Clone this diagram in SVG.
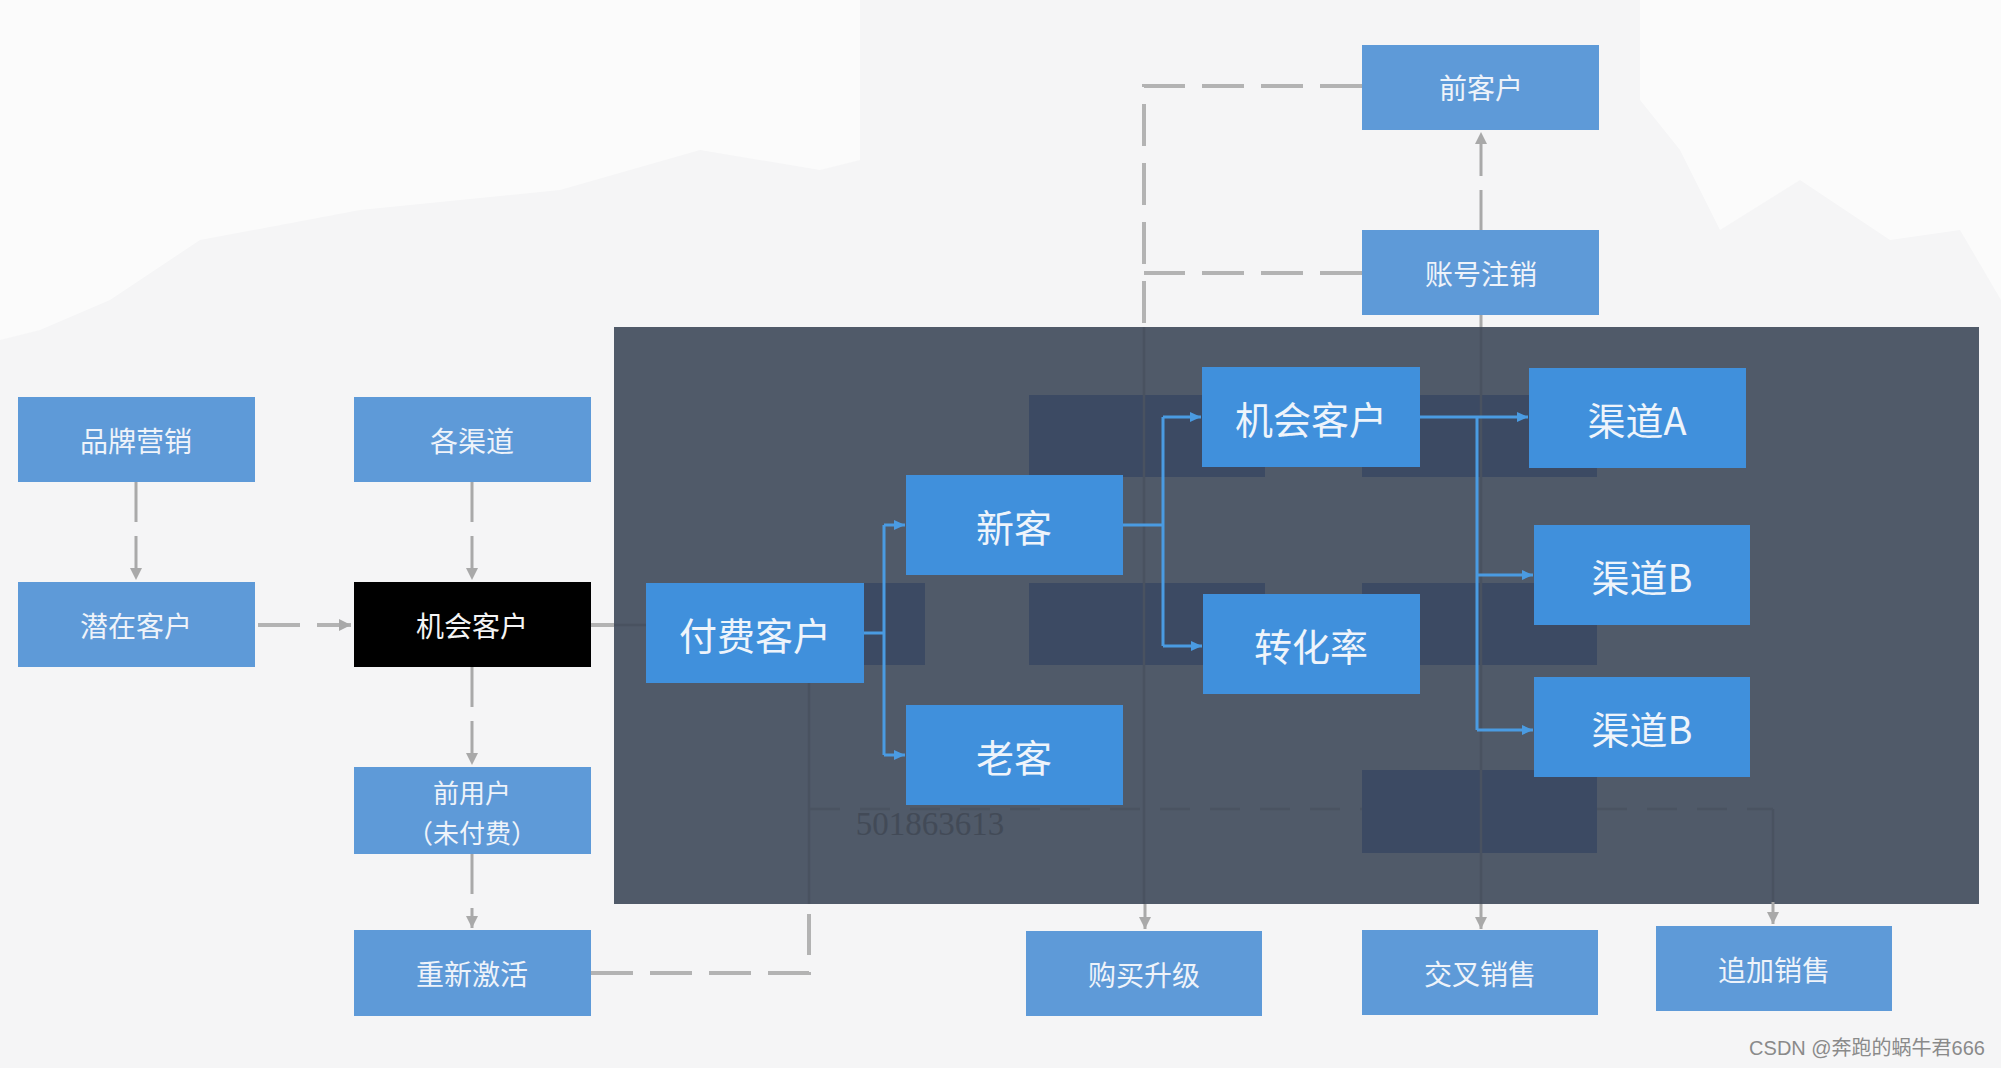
<svg xmlns="http://www.w3.org/2000/svg" width="2001" height="1068" viewBox="0 0 2001 1068">
<defs>
<style>
.ob{fill:#5e9ad8}
.ib{fill:#4090dc}
.gh{fill:#3c4a63}
.ot{font-family:"Noto Sans CJK SC","Noto Sans",sans-serif;font-size:28px;fill:#eef3fa;text-anchor:middle;dominant-baseline:central}
.it{font-family:"Noto Sans CJK SC","Noto Sans",sans-serif;font-size:38px;fill:#eef4fb;text-anchor:middle;dominant-baseline:central}
.gd{fill:none;stroke:#b3b3b3;stroke-width:4;stroke-dasharray:42 17}
.gs{fill:none;stroke:#a9a9a9;stroke-width:3}
.gv{fill:none;stroke:#a9a9a9;stroke-width:3;stroke-dasharray:40 14}
.fl{fill:none;stroke:#495260;stroke-width:2.5}
.fd{fill:none;stroke:#4a5361;stroke-width:2.5;stroke-dasharray:30 20}
.bl{fill:none;stroke:#4a9be2;stroke-width:3}
</style>
<marker id="ga" markerWidth="14" markerHeight="14" refX="12" refY="7" orient="auto" markerUnits="userSpaceOnUse">
<path d="M0,1 L12,7 L0,13 Z" fill="#a9a9a9"/>
</marker>
<marker id="ba" markerWidth="12" markerHeight="12" refX="11" refY="6" orient="auto" markerUnits="userSpaceOnUse">
<path d="M0,1 L11,6 L0,11 Z" fill="#4a9be2"/>
</marker>
</defs>
<rect x="0" y="0" width="2001" height="1068" fill="#f5f5f6"/>
<path d="M0,0 L860,0 L860,160 L820,170 L700,150 L560,190 L360,210 L200,240 L110,300 L40,330 L0,340 Z" fill="#fbfbfb"/>
<path d="M1640,0 L2001,0 L2001,300 L1960,230 L1890,240 L1800,180 L1720,230 L1680,150 L1640,100 Z" fill="#fbfbfb"/>

<g id="panel">
<rect x="614" y="327" width="1365" height="577" fill="#505a69"/>
<rect class="gh" x="700" y="583" width="225" height="82"/>
<rect class="gh" x="1029" y="395" width="236" height="82"/>
<rect class="gh" x="1362" y="395" width="235" height="82"/>
<rect class="gh" x="1029" y="583" width="236" height="82"/>
<rect class="gh" x="1362" y="583" width="235" height="82"/>
<rect class="gh" x="1362" y="770" width="235" height="83"/>
<path class="fl" d="M614,625 H700"/>
<path class="fl" d="M809,683 V904"/>
<path class="fl" d="M1144,327 V904"/>
<path class="fl" d="M1481,327 V904"/>
<path class="fl" d="M1773,809 V902"/>
<path class="fd" d="M810,809 H1362 M1597,809 H1773"/>
<text x="930" y="824" font-family="Liberation Serif,serif" font-size="33" fill="#3a414c" opacity="0.6" text-anchor="middle" dominant-baseline="central">501863613</text>
</g>

<g id="connectors">
<path class="gv" d="M136,482 V580" marker-end="url(#ga)"/>
<path class="gv" d="M472,482 V580" marker-end="url(#ga)"/>
<path class="gd" d="M258,625 H351" marker-end="url(#ga)"/>
<path class="gd" d="M591,625 H614"/>
<path class="gv" d="M472,667 V765" marker-end="url(#ga)"/>
<path class="gv" d="M472,854 V928" marker-end="url(#ga)"/>
<path class="gd" d="M591,973 H809 V914"/>
<path class="gd" d="M1362,86 H1144 V327"/>
<path class="gd" d="M1362,273 H1144"/>
<path class="gv" d="M1481,230 V132" marker-end="url(#ga)"/>
<path class="gs" d="M1481,315 V327"/>
<path class="gs" d="M1145,904 V929" marker-end="url(#ga)"/>
<path class="gs" d="M1481,904 V929" marker-end="url(#ga)"/>
<path class="gs" d="M1773,902 V924" marker-end="url(#ga)"/>
<path class="bl" d="M864,633 H884 M884,525 V755"/>
<path class="bl" d="M884,525 H905" marker-end="url(#ba)"/>
<path class="bl" d="M884,755 H905" marker-end="url(#ba)"/>
<path class="bl" d="M1123,525 H1163 M1163,417 V646"/>
<path class="bl" d="M1163,417 H1201" marker-end="url(#ba)"/>
<path class="bl" d="M1163,646 H1202" marker-end="url(#ba)"/>
<path class="bl" d="M1420,417 H1528" marker-end="url(#ba)"/>
<path class="bl" d="M1477,417 V730"/>
<path class="bl" d="M1477,575 H1533" marker-end="url(#ba)"/>
<path class="bl" d="M1477,730 H1533" marker-end="url(#ba)"/>
</g>

<g id="n-pinpai"><rect class="ob" x="18" y="397" width="237" height="85"/><text class="ot" x="136" y="440">品牌营销</text></g>
<g id="n-gequdao"><rect class="ob" x="354" y="397" width="237" height="85"/><text class="ot" x="472" y="440">各渠道</text></g>
<g id="n-qianzai"><rect class="ob" x="18" y="582" width="237" height="85"/><text class="ot" x="136" y="625">潜在客户</text></g>
<g id="n-jihui-out"><rect x="354" y="582" width="237" height="85" fill="#000"/><text class="ot" x="472" y="625" style="fill:#f4f4f4">机会客户</text></g>
<g id="n-qianyonghu"><rect class="ob" x="354" y="767" width="237" height="87"/><text class="ot" x="472" y="791" style="font-size:26px">前用户</text><text class="ot" x="472" y="831" style="font-size:26px">（未付费）</text></g>
<g id="n-chongxin"><rect class="ob" x="354" y="930" width="237" height="86"/><text class="ot" x="472" y="973">重新激活</text></g>
<g id="n-qiankehu"><rect class="ob" x="1362" y="45" width="237" height="85"/><text class="ot" x="1481" y="87">前客户</text></g>
<g id="n-zhanghao"><rect class="ob" x="1362" y="230" width="237" height="85"/><text class="ot" x="1481" y="273">账号注销</text></g>
<g id="n-goumai"><rect class="ob" x="1026" y="931" width="236" height="85"/><text class="ot" x="1144" y="974">购买升级</text></g>
<g id="n-jiaocha"><rect class="ob" x="1362" y="930" width="236" height="85"/><text class="ot" x="1480" y="973">交叉销售</text></g>
<g id="n-zhuijia"><rect class="ob" x="1656" y="926" width="236" height="85"/><text class="ot" x="1774" y="969">追加销售</text></g>

<g id="n-fufei"><rect class="ib" x="646" y="583" width="218" height="100"/><text class="it" x="755" y="633">付费客户</text></g>
<g id="n-xinke"><rect class="ib" x="906" y="475" width="217" height="100"/><text class="it" x="1014" y="525">新客</text></g>
<g id="n-laoke"><rect class="ib" x="906" y="705" width="217" height="100"/><text class="it" x="1014" y="755">老客</text></g>
<g id="n-jihui-in"><rect class="ib" x="1202" y="367" width="218" height="100"/><text class="it" x="1311" y="417">机会客户</text></g>
<g id="n-zhuanhua"><rect class="ib" x="1203" y="594" width="217" height="100"/><text class="it" x="1311" y="644">转化率</text></g>
<g id="n-qudaoA"><rect class="ib" x="1529" y="368" width="217" height="100"/><text class="it" x="1637" y="418">渠道A</text></g>
<g id="n-qudaoB1"><rect class="ib" x="1534" y="525" width="216" height="100"/><text class="it" x="1642" y="575">渠道B</text></g>
<g id="n-qudaoB2"><rect class="ib" x="1534" y="677" width="216" height="100"/><text class="it" x="1642" y="727">渠道B</text></g>

<text x="1985" y="1055" font-family="Liberation Sans,Noto Sans CJK SC,sans-serif" font-size="20" fill="#8a8a8a" text-anchor="end">CSDN @奔跑的蜗牛君666</text>
</svg>
